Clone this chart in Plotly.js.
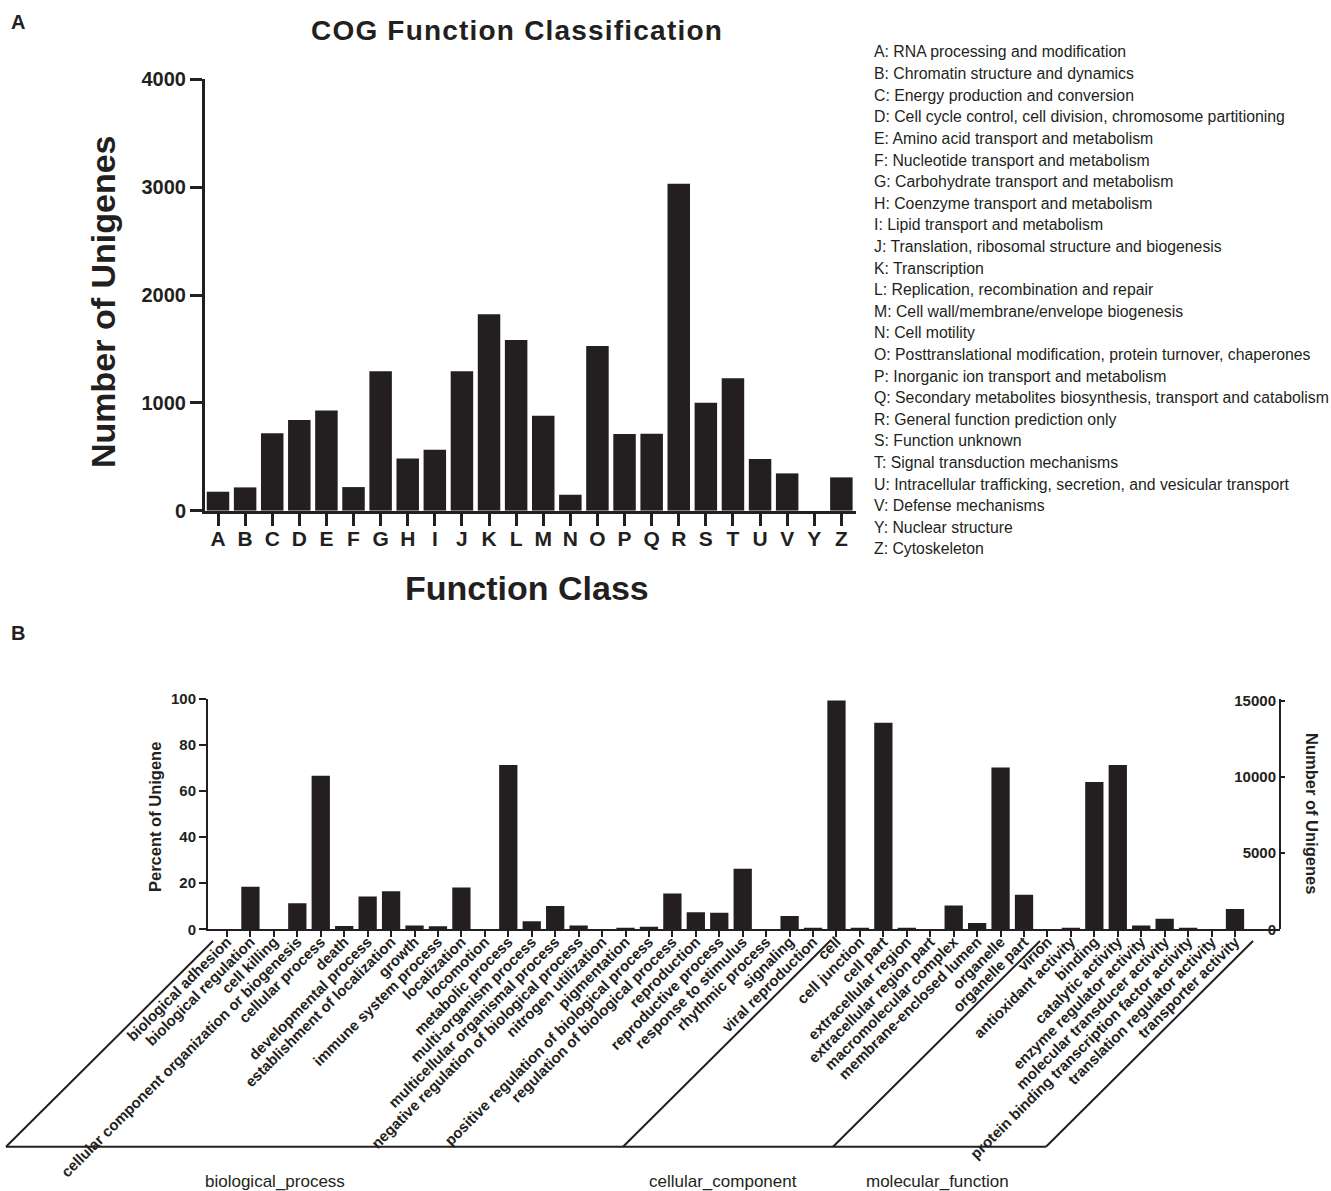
<!DOCTYPE html>
<html>
<head>
<meta charset="utf-8">
<script src="https://cdn.plot.ly/plotly-3.0.1.min.js"></script>
<style>
html,body{margin:0;padding:0;background:#fff;}
#chart{width:1331px;height:1191px;}
#chart .gtitle{letter-spacing:1.2px;}
</style>
</head>
<body>
<div id="chart"></div>
<script>
// ---------- Panel A data (COG) ----------
const cogCodes = ['A','B','C','D','E','F','G','H','I','J','K','L','M','N','O','P','Q','R','S','T','U','V','Y','Z'];
const cogCounts = [176,216,717,841,930,219,1292,485,566,1292,1821,1583,881,148,1527,711,714,3032,1002,1227,479,346,0,309];
const cogNames = [
  'RNA processing and modification',
  'Chromatin structure and dynamics',
  'Energy production and conversion',
  'Cell cycle control, cell division, chromosome partitioning',
  'Amino acid transport and metabolism',
  'Nucleotide transport and metabolism',
  'Carbohydrate transport and metabolism',
  'Coenzyme transport and metabolism',
  'Lipid transport and metabolism',
  'Translation, ribosomal structure and biogenesis',
  'Transcription',
  'Replication, recombination and repair',
  'Cell wall/membrane/envelope biogenesis',
  'Cell motility',
  'Posttranslational modification, protein turnover, chaperones',
  'Inorganic ion transport and metabolism',
  'Secondary metabolites biosynthesis, transport and catabolism',
  'General function prediction only',
  'Function unknown',
  'Signal transduction mechanisms',
  'Intracellular trafficking, secretion, and vesicular transport',
  'Defense mechanisms',
  'Nuclear structure',
  'Cytoskeleton'
];
const cogTicks = [0,1000,2000,3000,4000];

// ---------- Panel B data (GO) ----------
const goTerms = [
  'biological adhesion','biological regulation','cell killing','cellular component organization or biogenesis',
  'cellular process','death','developmental process','establishment of localization','growth',
  'immune system process','localization','locomotion','metabolic process','multi-organism process',
  'multicellular organismal process','negative regulation of biological process','nitrogen utilization',
  'pigmentation','positive regulation of biological process','regulation of biological process',
  'reproduction','reproductive process','response to stimulus','rhythmic process','signaling',
  'viral reproduction',
  'cell','cell junction','cell part','extracellular region','extracellular region part',
  'macromolecular complex','membrane-enclosed lumen','organelle','organelle part','virion',
  'antioxidant activity','binding','catalytic activity','enzyme regulator activity',
  'molecular transducer activity','protein binding transcription factor activity',
  'translation regulator activity','transporter activity'
];
const goPercent = [
  0,18.5,0,11.3,66.7,1.4,14.2,16.5,1.6,1.3,18.2,0,71.3,3.5,10.1,1.6,0,0.7,1.1,15.5,7.4,7.2,26.3,0,5.8,0.7,
  99.3,0.7,89.7,0.7,0,10.3,2.7,70.3,15.0,0,
  0.7,64.0,71.3,1.6,4.6,0.7,0,8.8
];
const goGroups = ['biological_process','cellular_component','molecular_function'];
const goPercentTicks = [0,20,40,60,80,100];
const goCountTicks = [0,5000,10000,15000];

// ---------- layout helpers ----------
const W = 1331, H = 1191;
const px = x => x / W;
const py = y => 1 - y / H;
const INK = '#231f20';
const FONT = 'Liberation Sans, Arial, Helvetica, sans-serif';
const bold = (s) => ({family: FONT, size: s, color: INK, weight: 'bold'});

const traces = [
  {
    type: 'bar', x: cogCodes, y: cogCounts, xaxis: 'x', yaxis: 'y',
    marker: {color: INK, line: {width: 0}}, width: 0.83, hoverinfo: 'x+y'
  },
  {
    type: 'bar', x: goTerms, y: goPercent, xaxis: 'x2', yaxis: 'y2',
    marker: {color: INK, line: {width: 0}}, width: 0.78, hoverinfo: 'x+y'
  },
  {
    // invisible trace to activate the right-hand count axis
    type: 'scatter', x: [goTerms[0]], y: [0], xaxis: 'x2', yaxis: 'y3',
    mode: 'markers', marker: {opacity: 0}, hoverinfo: 'skip', showlegend: false
  }
];

const annotations = [];
// panel letters
annotations.push({text: 'A', x: px(18), y: py(22), xref: 'paper', yref: 'paper', showarrow: false,
  font: bold(20), xanchor: 'center', yanchor: 'middle'});
annotations.push({text: 'B', x: px(18), y: py(633), xref: 'paper', yref: 'paper', showarrow: false,
  font: bold(20), xanchor: 'center', yanchor: 'middle'});
// panel A titles
annotations.push({text: 'Number of Unigenes', x: px(103), y: py(302), xref: 'paper', yref: 'paper',
  showarrow: false, textangle: -90, font: bold(34), xanchor: 'center', yanchor: 'middle'});
annotations.push({text: 'Function Class', x: px(527), y: py(588), xref: 'paper', yref: 'paper',
  showarrow: false, font: bold(34), xanchor: 'center', yanchor: 'middle'});
// COG legend text
cogCodes.forEach((c, i) => {
  annotations.push({
    text: c + ': ' + cogNames[i], x: px(872), y: py(52 + i * 21.6), xref: 'paper', yref: 'paper',
    showarrow: false, xanchor: 'left', yanchor: 'middle', align: 'left',
    font: {family: FONT, size: 15.8, color: INK}
  });
});
// panel B axis titles
annotations.push({text: 'Percent of Unigene', x: px(155), y: py(817), xref: 'paper', yref: 'paper',
  showarrow: false, textangle: -90, font: bold(16.5), xanchor: 'center', yanchor: 'middle'});
annotations.push({text: 'Number of Unigenes', x: px(1312), y: py(813), xref: 'paper', yref: 'paper',
  showarrow: false, textangle: 90, font: bold(16.5), xanchor: 'center', yanchor: 'middle'});
// group labels
const groupCenters = [275, 723, 937];
goGroups.forEach((g, i) => {
  annotations.push({text: g, x: px(groupCenters[i]), y: py(1181), xref: 'paper', yref: 'paper',
    showarrow: false, font: {family: FONT, size: 17, color: INK}, xanchor: 'center', yanchor: 'middle'});
});

// bracket lines under panel B
const shapes = [];
const lineStyle = {color: INK, width: 2};
const yBot = 1146.7, yTop = 941;
shapes.push({type: 'line', xref: 'paper', yref: 'paper', x0: px(6), x1: px(1046), y0: py(yBot), y1: py(yBot), line: lineStyle});
[[6,213],[623,830],[833,1040],[1046,1253]].forEach(([b, t]) => {
  shapes.push({type: 'line', xref: 'paper', yref: 'paper', x0: px(b), x1: px(t), y0: py(yBot), y1: py(yTop), line: lineStyle});
});

const layout = {
  width: W, height: H,
  margin: {l: 0, r: 0, t: 0, b: 0},
  paper_bgcolor: '#ffffff', plot_bgcolor: 'rgba(0,0,0,0)',
  showlegend: false,
  title: {text: 'COG Function Classification', x: px(517), xanchor: 'center', y: py(30), yanchor: 'middle',
    font: bold(28)},
  xaxis: {
    domain: [px(205), px(856)], anchor: 'y', type: 'category',
    range: [-0.48, 23.54], showgrid: false, zeroline: false,
    showline: true, linecolor: INK, linewidth: 3,
    ticks: 'outside', ticklen: 12, tickwidth: 3, tickcolor: INK,
    ticklabelstandoff: -5,
    tickfont: bold(21), tickangle: 0, fixedrange: true
  },
  yaxis: {
    domain: [py(510.7), py(79.3)], anchor: 'x',
    range: [0, 4000], tickvals: cogTicks, tickformat: 'd',
    showgrid: false, zeroline: false,
    showline: true, linecolor: INK, linewidth: 3,
    ticks: 'outside', ticklen: 12, tickwidth: 3, tickcolor: INK,
    tickfont: bold(20), fixedrange: true
  },
  xaxis2: {
    domain: [px(208), px(1280)], anchor: 'y2', type: 'category',
    range: [-0.81, 44.92], showgrid: false, zeroline: false,
    showline: true, linecolor: INK, linewidth: 2,
    ticks: 'outside', ticklen: 6, tickwidth: 2, tickcolor: INK,
    ticklabelstandoff: -10,
    tickfont: bold(15), tickangle: -45, fixedrange: true
  },
  yaxis2: {
    domain: [py(929.3), py(699)], anchor: 'x2',
    range: [0, 100], tickvals: goPercentTicks,
    showgrid: false, zeroline: false,
    showline: true, linecolor: INK, linewidth: 2,
    ticks: 'outside', ticklen: 7, tickwidth: 2, tickcolor: INK,
    tickfont: bold(15), fixedrange: true
  },
  yaxis3: {
    overlaying: 'y2', side: 'left', anchor: 'free', position: px(1280),
    range: [0, 15111], tickvals: goCountTicks, tickformat: 'd',
    showgrid: false, zeroline: false,
    showline: true, linecolor: INK, linewidth: 2,
    ticks: 'inside', ticklen: 4, tickwidth: 2, tickcolor: INK,
    tickfont: bold(15), fixedrange: true
  },
  annotations: annotations,
  shapes: shapes
};

Plotly.newPlot('chart', traces, layout, {displayModeBar: false, staticPlot: true});
</script>
</body>
</html>
